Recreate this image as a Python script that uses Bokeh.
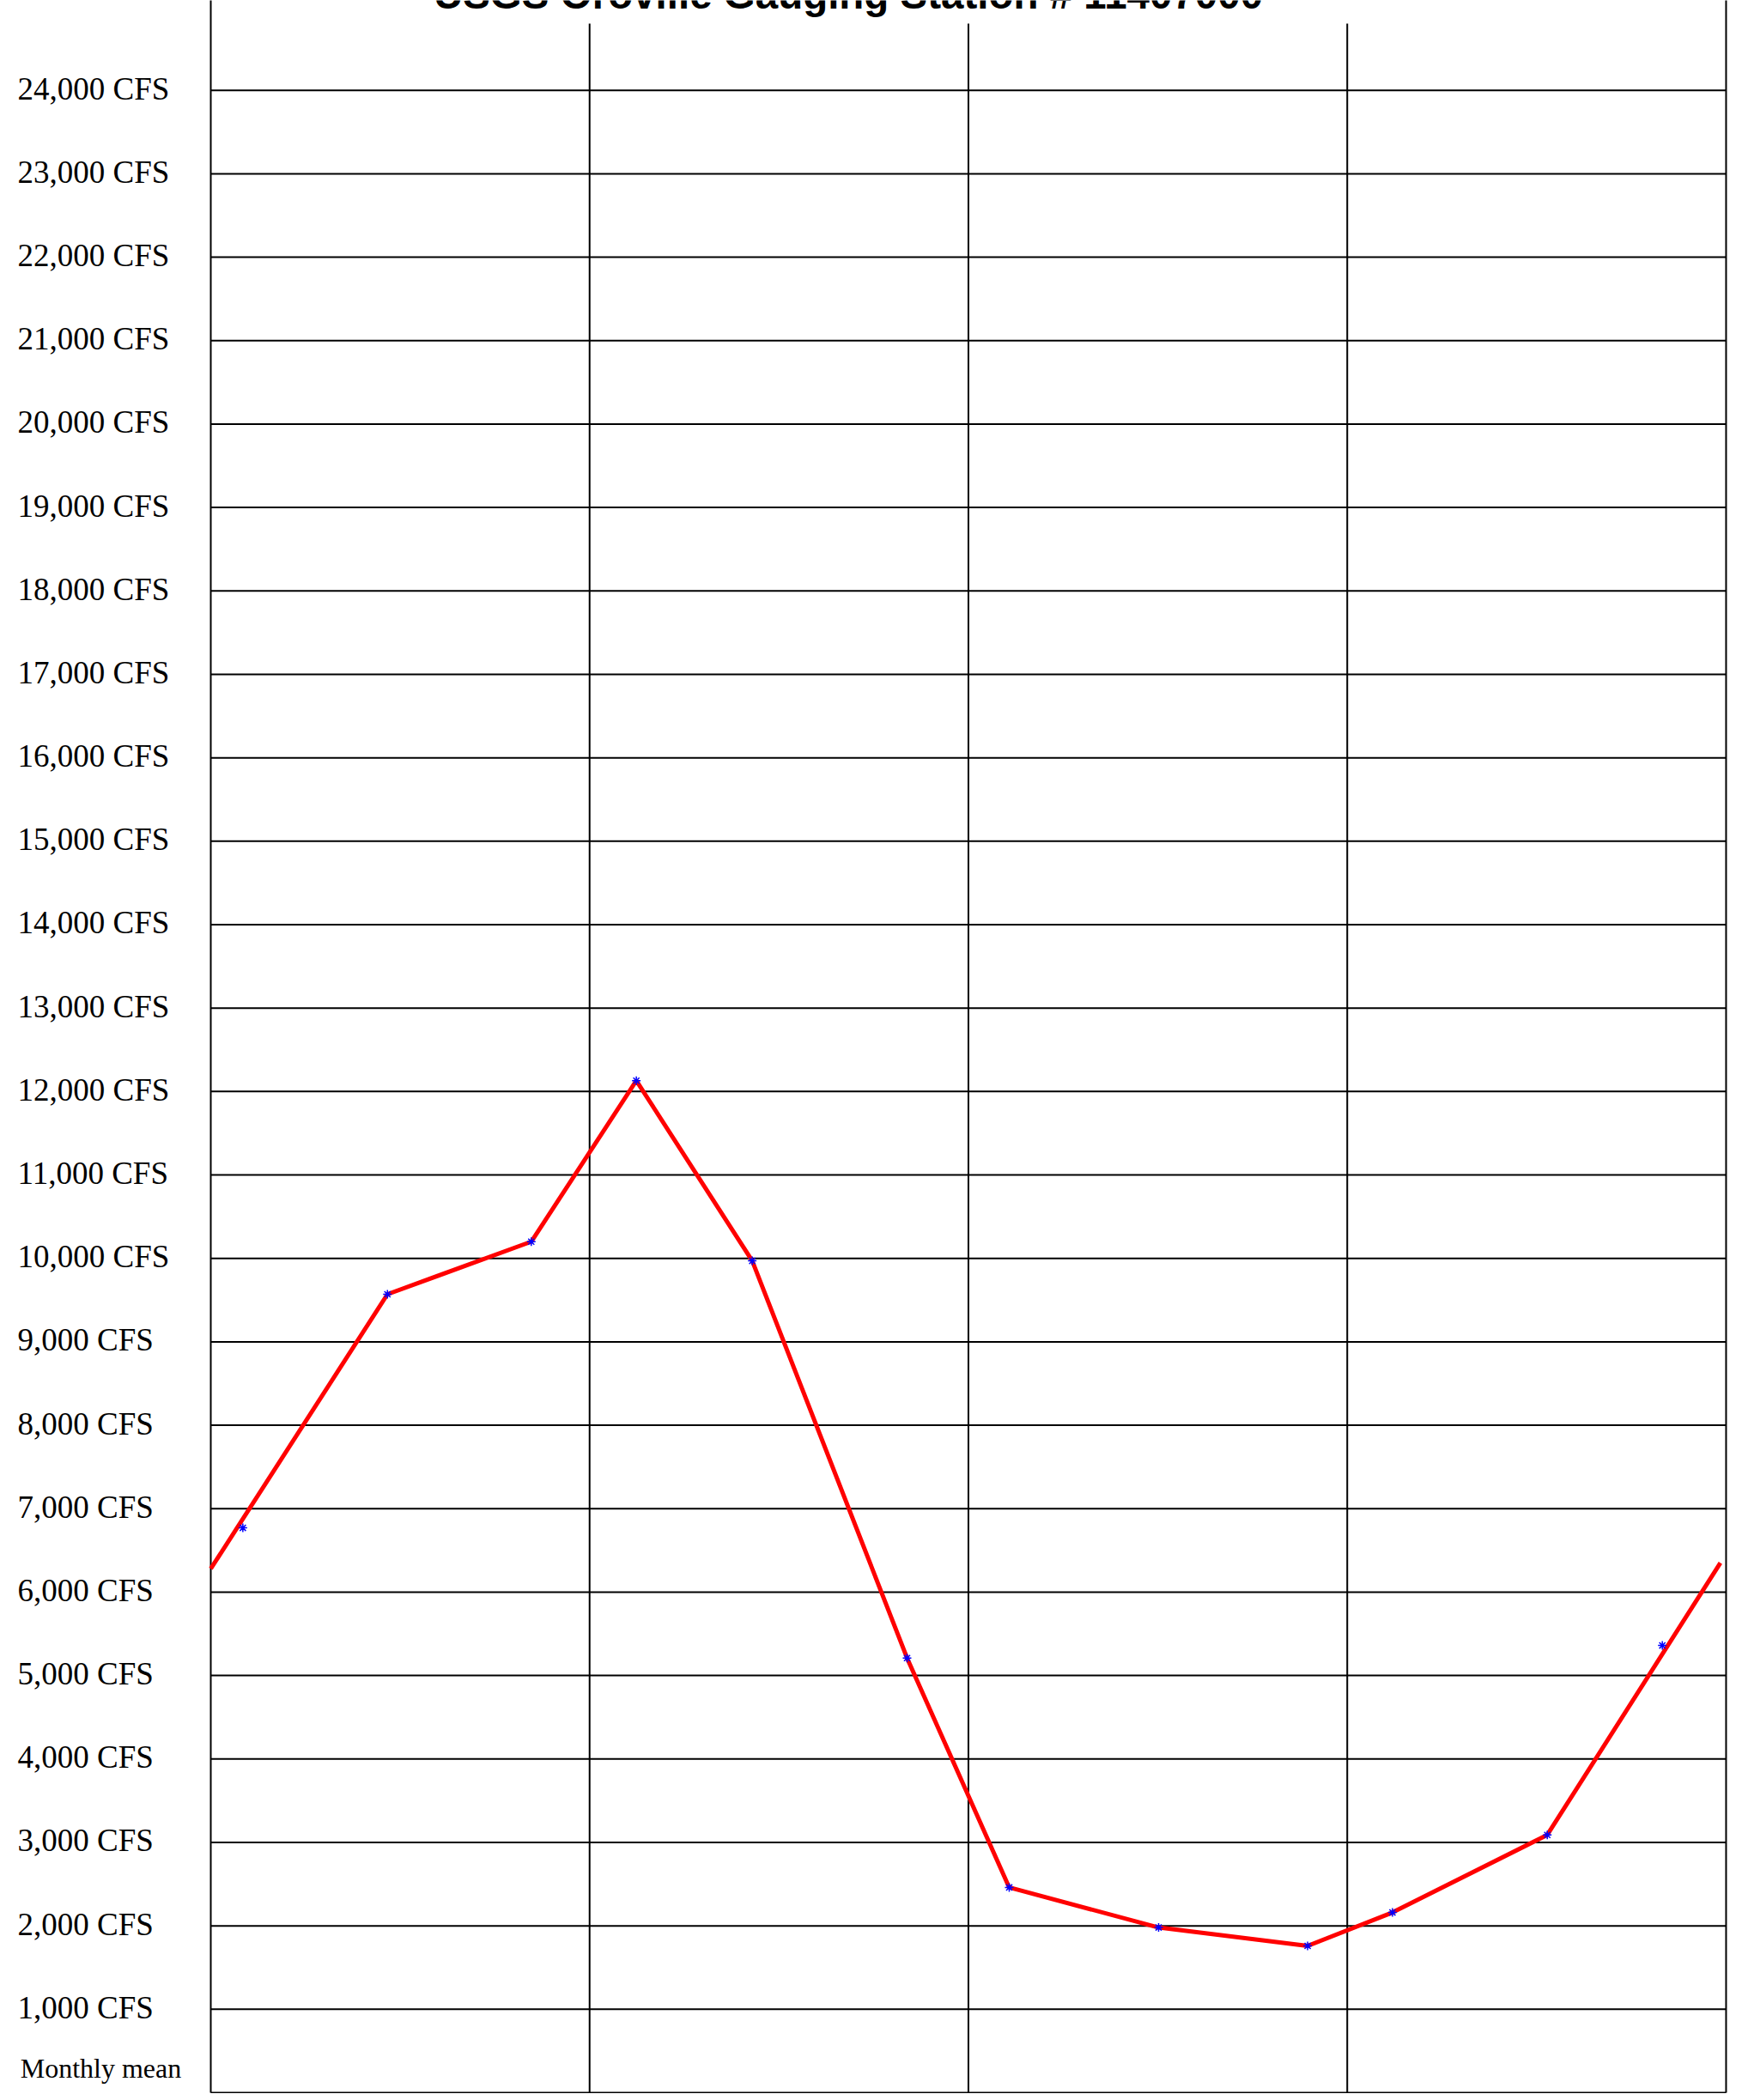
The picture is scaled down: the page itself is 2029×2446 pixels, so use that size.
from bokeh.plotting import figure
from bokeh.models import Range1d
from bokeh.embed import file_html
from bokeh.resources import INLINE
from bokeh.core.properties import value

# ---------------- data ----------------
# monthly mean discharge markers (x = position in months across the 12-month grid)
month_pos = [0.254, 1.399, 2.538, 3.370, 4.288, 5.514, 6.323, 7.506, 8.686, 9.358, 10.584, 11.495]
monthly_mean_cfs = [6770, 9570, 10200, 12130, 9970, 5210, 2460, 1980, 1760, 2160, 3090, 5360]
# where the red line meets the left and right borders
edge_pos = [0.0, 11.955]
edge_cfs = [6280, 6350]
# y ticks and labels
tick_values = [1000, 2000, 3000, 4000, 5000, 6000, 7000, 8000, 9000, 10000, 11000, 12000,
               13000, 14000, 15000, 16000, 17000, 18000, 19000, 20000, 21000, 22000, 23000, 24000]
tick_labels = ["1,000 CFS", "2,000 CFS", "3,000 CFS", "4,000 CFS", "5,000 CFS", "6,000 CFS",
               "7,000 CFS", "8,000 CFS", "9,000 CFS", "10,000 CFS", "11,000 CFS", "12,000 CFS",
               "13,000 CFS", "14,000 CFS", "15,000 CFS", "16,000 CFS", "17,000 CFS", "18,000 CFS",
               "19,000 CFS", "20,000 CFS", "21,000 CFS", "22,000 CFS", "23,000 CFS", "24,000 CFS"]
column_bounds = [0, 3, 6, 9, 12]
title_text = "USGS Oroville Gauging Station # 11407000"
corner_text = "Monthly mean"

# ---------------- layout ----------------
W, H = 2021, 2438
x0_px = 245.0          # canvas x of month 0
px_per_month = 147.08
y0_px = 2437.0         # canvas y of 0 CFS
px_per_cfs = (2437.0 - 104.7) / 24000.0

p = figure(width=W, height=H, output_backend="svg", toolbar_location=None,
           x_axis_location=None, y_axis_location=None,
           x_range=Range1d(-x0_px / px_per_month, (W - x0_px) / px_per_month),
           y_range=Range1d(-(H - y0_px) / px_per_cfs, y0_px / px_per_cfs),
           min_border=0, outline_line_color=None, background_fill_color="white",
           border_fill_color="white")
p.grid.visible = False

# horizontal grid lines (including bottom border at 0)
h_levels = [0] + tick_values
p.segment(x0=[column_bounds[0]] * len(h_levels), x1=[column_bounds[-1]] * len(h_levels),
          y0=h_levels, y1=h_levels, line_color="black", line_width=2)

# vertical column lines
v_tops = [26000 if b in (column_bounds[0], column_bounds[-1]) else 24800 for b in column_bounds]
p.segment(x0=column_bounds, x1=column_bounds, y0=[0] * len(column_bounds), y1=v_tops,
          line_color="black", line_width=2)

# red line
line_x = [edge_pos[0]] + month_pos[1:-1] + [edge_pos[1]]
line_y = [edge_cfs[0]] + monthly_mean_cfs[1:-1] + [edge_cfs[1]]
p.line(line_x, line_y, line_color="red", line_width=5)

# blue asterisk markers
p.scatter(month_pos, monthly_mean_cfs, marker="asterisk", size=10,
          line_color="blue", line_width=1.5)

# y labels (left aligned)
p.text(x=[0] * len(tick_values), y=tick_values, text=tick_labels,
       x_offset=-225, y_offset=-2, text_align="left", text_baseline="middle",
       text_font=value("Liberation Serif"), text_font_size="37px", text_color="black")

# bottom-left caption
p.text(x=[0], y=[0], text=[corner_text], x_offset=-128, y_offset=-29,
       text_align="center", text_baseline="middle",
       text_font=value("Liberation Serif"), text_font_size="32px", text_color="black")

# title (mostly cut off at the top of the page)
p.text(x=[6], y=[24000], text=[title_text], x_offset=-140, y_offset=-112,
       text_align="center", text_baseline="alphabetic",
       text_font=value("Liberation Sans"), text_font_style="bold",
       text_font_size="47.5px", text_color="black")

open("out.html", "w").write(file_html(p, INLINE))
